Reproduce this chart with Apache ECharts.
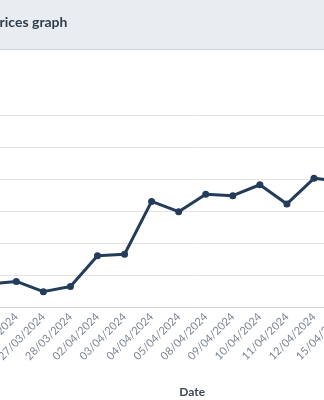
<!DOCTYPE html>
<html>
<head>
<meta charset="utf-8">
<script src="https://cdn.jsdelivr.net/npm/echarts@6/dist/echarts.min.js"></script>
<style>
html,body{margin:0;padding:0;background:#fff;overflow:hidden;width:324px;height:400px;}
#chart{position:absolute;left:-150px;top:0;width:700px;height:400px;}
</style>
</head>
<body>
<div id="chart"></div>
<script>
var titleText = 'Prices graph';
var axisName = 'Date';
var categories = ['21/03/2024','22/03/2024','25/03/2024','26/03/2024','27/03/2024','28/03/2024','02/04/2024','03/04/2024','04/04/2024','05/04/2024','08/04/2024','09/04/2024','10/04/2024','11/04/2024','12/04/2024','15/04/2024','16/04/2024','17/04/2024','18/04/2024','19/04/2024'];
var prices = [104.5, 103.2, 103.6, 104.0, 102.4, 103.2, 108.0, 108.25, 116.5, 114.9, 117.6, 117.4, 119.1, 116.1, 120.1, 119.6, 121.0, 122.2, 120.4, 123.0];
var yMin = 100, yMax = 130, yInterval = 5;

var chart = echarts.init(document.getElementById('chart'));
chart.setOption({
  animation: false,
  graphic: [
    {type:'rect', shape:{x:0,y:0,width:700,height:49}, style:{fill:'#e9edf1'}, z:0},
    {type:'rect', shape:{x:0,y:49,width:700,height:1}, style:{fill:'#d0d6dc'}, z:0},
    {type:'text', x:141, y:22, style:{text:titleText, font:'bold 14px Lato', fill:'#2f3e4f', textVerticalAlign:'middle'}, z:1}
  ],
  grid: {left:71.6, width:541.2, top:115, bottom:93, containLabel:false},
  xAxis: {
    type:'category', data:categories, boundaryGap:true,
    axisLine:{show:true, lineStyle:{color:'#cfd3d8', width:1}},
    axisTick:{show:false},
    axisLabel:{rotate:45, fontSize:11, fontFamily:'Lato', color:'#7d8692', margin:8, interval:0},
    name:axisName, nameLocation:'middle', nameGap:79,
    nameTextStyle:{fontFamily:'Lato', fontWeight:'bold', fontSize:12, color:'#3a4858'}
  },
  yAxis: {
    type:'value', min:yMin, max:yMax, interval:yInterval,
    axisLine:{show:false}, axisTick:{show:false},
    axisLabel:{show:true, fontFamily:'Lato', color:'#7d8692'},
    splitLine:{lineStyle:{color:'#e3e3e3', width:1}}
  },
  series: [{
    type:'line', data:prices,
    symbol:'circle', symbolSize:7,
    lineStyle:{color:'#233c5b', width:3},
    itemStyle:{color:'#233c5b'}
  }]
});
</script>
</body>
</html>
